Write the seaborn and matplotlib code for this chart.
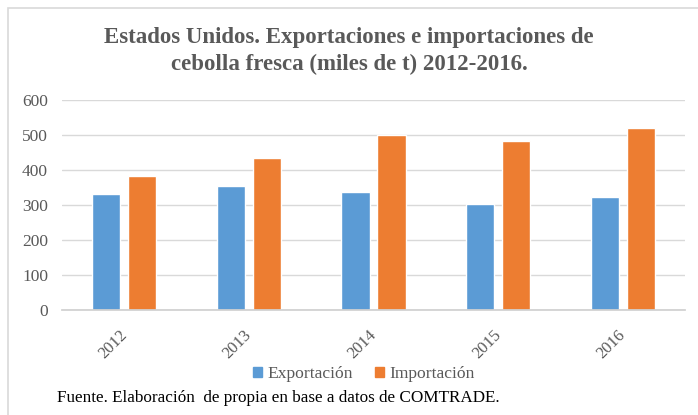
import matplotlib
matplotlib.use("Agg")
import matplotlib.pyplot as plt
import matplotlib.transforms as mtransforms
import pandas as pd
import seaborn as sns
from matplotlib.patches import Rectangle

years = ["2012", "2013", "2014", "2015", "2016"]
exportacion = [331, 355, 337, 302, 323]
importacion = [384, 435, 500, 483, 520]
series_names = ["Exportación", "Importación"]
colors = ["#5B9BD5", "#ED7D31"]

df = pd.DataFrame({
    "year": years * 2,
    "value": exportacion + importacion,
    "serie": [series_names[0]] * len(years) + [series_names[1]] * len(years),
})

sns.set_theme(style="white")
plt.rcParams["font.family"] = ["Liberation Serif", "DejaVu Serif"]

fig = plt.figure(figsize=(6.98, 4.15), dpi=100)
ax = fig.add_axes([62 / 698, 1 - 310 / 415, 623 / 698, 210 / 415])

sns.barplot(data=df, x="year", y="value", hue="serie", palette=colors,
            width=0.58, gap=0.22, ax=ax, legend=False, saturation=1)

ax.set_ylim(0, 600)
ax.set_xlim(-0.5, 4.5)
ax.set_yticks(range(0, 601, 100))
ax.yaxis.grid(True, color="#D9D9D9", linewidth=1)
ax.set_axisbelow(True)
for side in ["top", "right", "left"]:
    ax.spines[side].set_visible(False)
ax.spines["bottom"].set_color("#D0D0D0")
ax.set_xlabel("")
ax.set_ylabel("")
ax.tick_params(axis="y", length=0, pad=10, labelsize=12.5, labelcolor="#595959")
ax.tick_params(axis="x", length=0, pad=12, labelsize=12, labelcolor="#595959")
shift = mtransforms.ScaledTranslation(6 / 100, 0, fig.dpi_scale_trans)
for lbl in ax.get_xticklabels():
    lbl.set_rotation(45)
    lbl.set_ha("right")
    lbl.set_transform(lbl.get_transform() + shift)

fig.text(0.5, 1 - 38 / 415, "Estados Unidos. Exportaciones e importaciones de",
         ha="center", va="center", fontsize=16.5, fontweight="bold", color="#595959")
fig.text(0.5, 1 - 64 / 415, "cebolla fresca (miles de t) 2012-2016.",
         ha="center", va="center", fontsize=16.5, fontweight="bold", color="#595959")

handles = [Rectangle((0, 0), 1, 1, color=c) for c in colors]
fig.legend(handles, series_names, loc="center", bbox_to_anchor=(364 / 698, 1 - 374 / 415),
           ncol=2, frameon=False, fontsize=12.6, handlelength=0.5, handleheight=0.5,
           handletextpad=0.3, columnspacing=1.3, labelcolor="#595959")

fig.text(57 / 698, 1 - 398 / 415, "Fuente. Elaboración  de propia en base a datos de COMTRADE.",
         ha="left", va="center", fontsize=12.3, color="black")

fig.patches.append(Rectangle((8 / 698, -0.05), 1.0, 1 - 8 / 415 + 0.05, transform=fig.transFigure,
                             fill=False, edgecolor="#D9D9D9", linewidth=1.2))

fig.savefig("out.png", dpi=100)
